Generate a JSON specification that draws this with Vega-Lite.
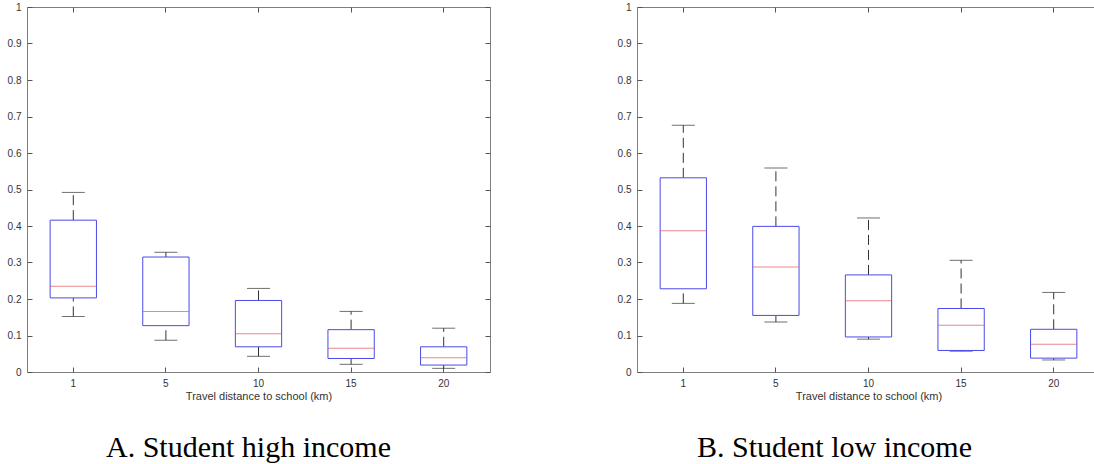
{
  "$schema": "https://vega.github.io/schema/vega-lite/v6.json",
  "padding": {"left": 6, "top": 1, "right": 0, "bottom": 0},
  "background": "white",
  "spacing": 125,
  "datasets": {
    "A": [
      {"d": "1", "lo": 0.152, "q1": 0.203, "med": 0.235, "q3": 0.416, "hi": 0.492},
      {"d": "5", "lo": 0.087, "q1": 0.127, "med": 0.166, "q3": 0.315, "hi": 0.328},
      {"d": "10", "lo": 0.043, "q1": 0.069, "med": 0.105, "q3": 0.196, "hi": 0.229},
      {"d": "15", "lo": 0.021, "q1": 0.037, "med": 0.065, "q3": 0.116, "hi": 0.166},
      {"d": "20", "lo": 0.010, "q1": 0.019, "med": 0.039, "q3": 0.069, "hi": 0.120}
    ],
    "B": [
      {"d": "1", "lo": 0.188, "q1": 0.228, "med": 0.387, "q3": 0.532, "hi": 0.676},
      {"d": "5", "lo": 0.137, "q1": 0.155, "med": 0.288, "q3": 0.399, "hi": 0.559},
      {"d": "10", "lo": 0.090, "q1": 0.096, "med": 0.195, "q3": 0.266, "hi": 0.422},
      {"d": "15", "lo": 0.057, "q1": 0.059, "med": 0.128, "q3": 0.174, "hi": 0.306},
      {"d": "20", "lo": 0.033, "q1": 0.038, "med": 0.076, "q3": 0.117, "hi": 0.218}
    ]
  },
  "hconcat": [
    {
      "width": 463, "height": 365,
      "data": {"name": "A"},
      "title": {"text": "A. Student high income", "orient": "bottom", "anchor": "middle", "font": "Liberation Serif", "fontSize": 30, "fontWeight": "normal", "color": "black", "offset": 32, "dx": -10},
      "encoding": {"x": {"field": "d", "type": "nominal", "sort": ["1", "5", "10", "15", "20"], "scale": {"paddingInner": 0, "paddingOuter": 0}, "axis": null}},
      "layer": [
        {"mark": {"type": "rule", "color": "#333333", "strokeDash": [10, 5], "strokeWidth": 1}, "encoding": {"y": {"field": "lo", "type": "quantitative", "scale": {"domain": [0, 1], "nice": false}, "axis": null}, "y2": {"field": "q1"}}},
        {"mark": {"type": "rule", "color": "#333333", "strokeDash": [10, 5], "strokeWidth": 1}, "encoding": {"y": {"field": "q3", "type": "quantitative", "scale": {"domain": [0, 1], "nice": false}, "axis": null}, "y2": {"field": "hi"}}},
        {"mark": {"type": "tick", "orient": "horizontal", "size": 23, "thickness": 1, "color": "#333333"}, "encoding": {"y": {"field": "hi", "type": "quantitative", "scale": {"domain": [0, 1], "nice": false}, "axis": null}}},
        {"mark": {"type": "tick", "orient": "horizontal", "size": 23, "thickness": 1, "color": "#333333"}, "encoding": {"y": {"field": "lo", "type": "quantitative", "scale": {"domain": [0, 1], "nice": false}, "axis": null}}},
        {"mark": {"type": "bar", "width": {"band": 0.5}, "fill": "white", "stroke": "#4a4ae8", "strokeWidth": 1}, "encoding": {"y": {"field": "q1", "type": "quantitative", "scale": {"domain": [0, 1], "nice": false}, "axis": null}, "y2": {"field": "q3"}}},
        {"mark": {"type": "tick", "orient": "horizontal", "size": 46, "thickness": 1, "color": "#e5525a"}, "encoding": {"y": {"field": "med", "type": "quantitative", "scale": {"domain": [0, 1], "nice": false}, "axis": null}}},
        {"mark": {"type": "point", "opacity": 0}, "encoding": {
          "x": {"field": "d", "type": "nominal", "sort": ["1", "5", "10", "15", "20"], "axis": {"orient": "bottom", "title": "Travel distance to school (km)", "labelAngle": 0, "bandPosition": 0.5, "tickSize": -5, "labelPadding": 11, "titlePadding": 2}},
          "y": {"field": "hi", "type": "quantitative", "scale": {"domain": [0, 1], "nice": false}, "axis": {"orient": "left", "title": null, "values": [0, 0.1, 0.2, 0.3, 0.4, 0.5, 0.6, 0.7, 0.8, 0.9, 1], "format": "~g", "tickSize": -5, "labelPadding": 11}}}},
        {"mark": {"type": "point", "opacity": 0}, "encoding": {
          "x": {"field": "d", "type": "nominal", "sort": ["1", "5", "10", "15", "20"], "axis": {"orient": "top", "title": null, "labels": false, "bandPosition": 0.5, "tickSize": -5}},
          "y": {"field": "hi", "type": "quantitative", "scale": {"domain": [0, 1], "nice": false}, "axis": {"orient": "right", "title": null, "labels": false, "values": [0, 0.1, 0.2, 0.3, 0.4, 0.5, 0.6, 0.7, 0.8, 0.9, 1], "tickSize": -5}}}}
      ],
      "resolve": {"axis": {"x": "independent", "y": "independent"}}
    },
    {
      "width": 463, "height": 365,
      "data": {"name": "B"},
      "title": {"text": "B. Student low income", "orient": "bottom", "anchor": "middle", "font": "Liberation Serif", "fontSize": 30, "fontWeight": "normal", "color": "black", "offset": 32, "dx": -34},
      "encoding": {"x": {"field": "d", "type": "nominal", "sort": ["1", "5", "10", "15", "20"], "scale": {"paddingInner": 0, "paddingOuter": 0}, "axis": null}},
      "layer": [
        {"mark": {"type": "rule", "color": "#333333", "strokeDash": [10, 5], "strokeWidth": 1}, "encoding": {"y": {"field": "lo", "type": "quantitative", "scale": {"domain": [0, 1], "nice": false}, "axis": null}, "y2": {"field": "q1"}}},
        {"mark": {"type": "rule", "color": "#333333", "strokeDash": [10, 5], "strokeWidth": 1}, "encoding": {"y": {"field": "q3", "type": "quantitative", "scale": {"domain": [0, 1], "nice": false}, "axis": null}, "y2": {"field": "hi"}}},
        {"mark": {"type": "tick", "orient": "horizontal", "size": 23, "thickness": 1, "color": "#333333"}, "encoding": {"y": {"field": "hi", "type": "quantitative", "scale": {"domain": [0, 1], "nice": false}, "axis": null}}},
        {"mark": {"type": "tick", "orient": "horizontal", "size": 23, "thickness": 1, "color": "#333333"}, "encoding": {"y": {"field": "lo", "type": "quantitative", "scale": {"domain": [0, 1], "nice": false}, "axis": null}}},
        {"mark": {"type": "bar", "width": {"band": 0.5}, "fill": "white", "stroke": "#4a4ae8", "strokeWidth": 1}, "encoding": {"y": {"field": "q1", "type": "quantitative", "scale": {"domain": [0, 1], "nice": false}, "axis": null}, "y2": {"field": "q3"}}},
        {"mark": {"type": "tick", "orient": "horizontal", "size": 46, "thickness": 1, "color": "#e5525a"}, "encoding": {"y": {"field": "med", "type": "quantitative", "scale": {"domain": [0, 1], "nice": false}, "axis": null}}},
        {"mark": {"type": "point", "opacity": 0}, "encoding": {
          "x": {"field": "d", "type": "nominal", "sort": ["1", "5", "10", "15", "20"], "axis": {"orient": "bottom", "title": "Travel distance to school (km)", "labelAngle": 0, "bandPosition": 0.5, "tickSize": -5, "labelPadding": 11, "titlePadding": 2}},
          "y": {"field": "hi", "type": "quantitative", "scale": {"domain": [0, 1], "nice": false}, "axis": {"orient": "left", "title": null, "values": [0, 0.1, 0.2, 0.3, 0.4, 0.5, 0.6, 0.7, 0.8, 0.9, 1], "format": "~g", "tickSize": -5, "labelPadding": 11}}}},
        {"mark": {"type": "point", "opacity": 0}, "encoding": {
          "x": {"field": "d", "type": "nominal", "sort": ["1", "5", "10", "15", "20"], "axis": {"orient": "top", "title": null, "labels": false, "bandPosition": 0.5, "tickSize": -5}},
          "y": {"field": "hi", "type": "quantitative", "scale": {"domain": [0, 1], "nice": false}, "axis": {"orient": "right", "title": null, "labels": false, "values": [0, 0.1, 0.2, 0.3, 0.4, 0.5, 0.6, 0.7, 0.8, 0.9, 1], "tickSize": -5}}}}
      ],
      "resolve": {"axis": {"x": "independent", "y": "independent"}}
    }
  ],
  "config": {
    "view": {"stroke": "#7f7f7f", "strokeWidth": 1},
    "axis": {"domain": false, "grid": false, "tickColor": "#555555", "labelFont": "Liberation Sans", "labelFontSize": 10, "labelColor": "#333333", "titleFont": "Liberation Sans", "titleFontSize": 11, "titleFontWeight": "normal", "titleColor": "#333333"}
  }
}
